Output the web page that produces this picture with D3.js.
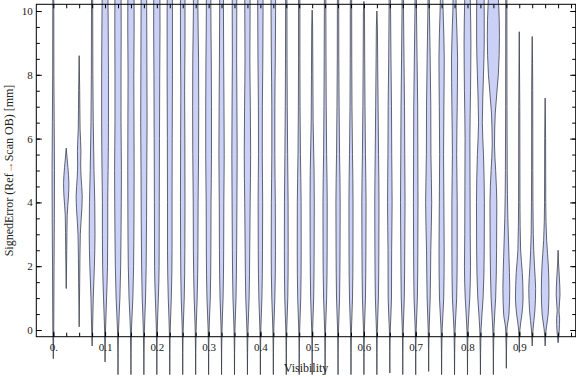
<!DOCTYPE html>
<html>
<head>
<meta charset="utf-8">
<title>Signed error violins</title>
<script src="https://d3js.org/d3.v7.min.js"></script>
<style>
  body { margin: 0; background: #fff; }
  text { font-family: "Liberation Serif", "DejaVu Serif", serif; fill: #222; }
</style>
</head>
<body>
<svg id="chart" width="576" height="377"></svg>
<script>
// visibility bins (x) of each violin
const visibility = [0, 0.025, 0.05, 0.075, 0.1, 0.125, 0.15, 0.175, 0.2, 0.225,
                    0.25, 0.275, 0.3, 0.325, 0.35, 0.375, 0.4, 0.425, 0.45, 0.475,
                    0.5, 0.525, 0.55, 0.575, 0.6, 0.625, 0.65, 0.675, 0.7, 0.725,
                    0.75, 0.775, 0.8, 0.825, 0.85, 0.875, 0.9, 0.925, 0.95, 0.975];

// density profile of each violin: [signed error mm, relative density]
const profiles = [
  [[-0.9,0],[0,0.6],[2,1],[3.5,1.4],[5,1.6],[6.5,1.2],[8,0.8],[11,0.6]],
  [[1.3,0],[2.5,0.7],[3.6,1.3],[4.2,3],[4.6,3.5],[5.1,2.2],[5.7,0]],
  [[0.1,0],[1.5,0.7],[3,1.5],[3.8,3.5],[4.2,4],[4.8,2.5],[5.2,2],[5.6,2.3],[6.3,1.2],[7.5,0.7],[8.6,0]],
  [[-0.5,0],[0,0.6],[1,1.5],[2,3],[3,3.8],[4,3.5],[5,2.5],[6.5,1.5],[8,1],[10,0.8],[11,0.8]],
  [[-1,0],[0,0.6],[1,2],[2,3.2],[3,3.5],[4,3.5],[5,4],[6.5,4.5],[8,4.5],[9,4.3],[10,4],[11,3.5]],
  [[-1.4,0],[0,0.7],[1,2.5],[2,3.5],[3,4],[4,4.3],[5,4.5],[6.5,4],[8,4],[9.5,4.2],[11,4]],
  [[-1.4,0],[0,0.7],[1,2.5],[2,3.5],[3.5,4],[5,4.2],[6.5,4],[8,3.8],[9.5,4.2],[11,4]],
  [[-1.4,0],[0,0.7],[1,2.2],[2,3],[3.5,3.5],[5,3.8],[6.5,4.2],[8,4],[9.5,3.8],[11,3.5]],
  [[-1.4,0],[0,0.6],[1,2],[2,3],[4,3.2],[6,3.5],[8,3.8],[9.5,4.2],[11,4]],
  [[-1.4,0],[0,0.6],[1,2],[2.5,3],[4,3],[6,3.2],[8,3.5],[10,3.5],[11,3.2]],
  [[-1.4,0],[0,0.6],[1,2],[2.5,2.8],[4,3],[6,2.8],[7.5,2.5],[9,3],[11,3]],
  [[-1.4,0],[0,0.6],[1,2],[2.5,3],[4,3.2],[5.5,3.8],[7,4],[8.5,3.8],[10,3],[11,3]],
  [[-1.4,0],[0,0.6],[1,2.2],[2.5,3],[4,3.2],[5.5,3.8],[7,3.8],[8.5,3.5],[10,3],[11,3]],
  [[-1.4,0],[0,0.6],[1,2],[2.5,2.8],[4,3],[5.5,3.5],[7,3.2],[8.5,2.8],[10,2.5],[11,2.5]],
  [[-1.4,0],[0,0.6],[1,2],[2.5,2.8],[4,3.2],[5.5,3.5],[7,3.2],[8.5,2.8],[10,3],[11,3]],
  [[-1.4,0],[0,0.7],[1,2.2],[2.5,3],[4,3.6],[5.5,4.2],[7,3.8],[8.5,3.2],[10,3.5],[11,3.5]],
  [[-1.4,0],[0,0.6],[1,2],[2.5,2.8],[4,3],[5.5,2.5],[7,2.6],[8.5,3.2],[10,3.5],[11,3.5]],
  [[-1.4,0],[0,0.6],[1,2],[2.5,2.8],[4,2.6],[5.5,2],[7,2],[8.5,2.6],[10,3],[11,3]],
  [[-1.4,0],[0,0.6],[1,2],[2.5,2.5],[4,2.4],[5.5,1.8],[7,1.3],[8.5,1],[10,0.9],[11,0.8]],
  [[-1.4,0],[0,0.6],[1,2],[2.5,2.6],[4,2.5],[5.5,1.6],[7,1.1],[8.5,0.9],[10,0.9],[11,0.8]],
  [[-1.4,0],[0,0.6],[1,2],[2.5,2.6],[4,2.8],[5,2.5],[6.5,1.3],[8,0.9],[9.5,0.6],[10.03,0]],
  [[-1.4,0],[0,0.6],[1,2],[2.5,2.7],[4,2.8],[5.5,2],[7,1.5],[8.5,1.2],[10,1],[11,0.9]],
  [[-1.4,0],[0,0.6],[1,2],[2.5,2.6],[4,2.8],[5.5,2],[7,1.4],[8.5,1],[10,0.9],[11,0.8]],
  [[-1.4,0],[0,0.6],[1,2],[2.5,2.6],[4,2.7],[5.5,2],[7,1.3],[8.5,1],[10,0.9],[11,0.8]],
  [[-1.4,0],[0,0.6],[1,2],[2.5,2.6],[4,2.8],[5.5,2],[7,1.4],[8.5,1],[10,0.7],[10.3,0]],
  [[-1.4,0],[0,0.6],[1,2],[2.5,2.6],[4,2.8],[5.5,2.2],[7,1.6],[8.5,1],[9.5,0.7],[10,0]],
  [[-1.35,0],[0,0.6],[1,2.2],[2.5,2.4],[4,3],[5.5,2.5],[7,2.2],[8.5,1.5],[10,1],[11,0.8]],
  [[-1.4,0],[0,0.6],[1,2],[2.5,2.6],[4,3],[5.5,2.6],[7,2.3],[8.5,1.6],[10,1],[11,0.8]],
  [[-1.4,0],[0,0.6],[1,2.2],[2.5,2.8],[4,3],[5.5,2.8],[7,2.6],[8.5,1.8],[10,1],[11,0.8]],
  [[-1.3,0],[0,0.6],[1,2],[2.5,2.8],[4,4],[5.5,3],[7,2.8],[8.5,2],[10,1],[11,0.8]],
  [[-1.4,0],[0,0.7],[1,2.8],[2.5,3.4],[4,3],[5.5,2.6],[7,3],[8.5,3.5],[10,2],[11,1]],
  [[-1.4,0],[0,0.7],[1,2.8],[2.5,3.5],[4,3.5],[5.5,2.8],[7,3.5],[8.5,4],[10,2.2],[11,1.5]],
  [[-1.4,0],[0,0.7],[1,3],[2,4],[3,3.6],[4.5,3.4],[6,3.2],[7.5,4],[9,4.5],[10.5,3.5],[11,3]],
  [[-1.4,0],[0,0.8],[1,3.5],[2.5,5],[4,5.2],[5.5,4],[6.5,2.5],[8,4],[9,5],[10,5],[11,4.5]],
  [[-1.4,0],[0,0.7],[1,3],[2.5,4.2],[4,4.5],[5,3],[5.8,1.5],[6.8,2.5],[8,6.5],[9.2,8],[10.2,7],[11,5]],
  [[-1.2,0],[0,0.8],[0.5,3.5],[1.3,4.5],[2.3,3.5],[3.5,2],[5,1.2],[7,0.9],[9,0.8],[11,0.7]],
  [[-0.7,0],[0,0.8],[0.5,3.5],[1,5],[1.8,4],[2.5,1.8],[4,0.9],[7,0.7],[9.35,0]],
  [[-0.5,0],[0,1],[0.6,3.5],[1.3,4.5],[2,3],[3,1.4],[5,0.8],[7.5,0.7],[9.2,0]],
  [[-0.5,0],[0,1.2],[0.5,4],[1.2,5],[2,4.2],[2.8,2],[4,0.8],[6,0.6],[7.27,0]],
  [[-0.4,0],[0,1.5],[0.35,2],[0.6,1.2],[1.1,2.5],[1.6,1.8],[2.1,0.6],[2.5,0]]
];

const yMajorTicks = [0, 2, 4, 6, 8, 10];
const xMajorTicks = [0, 0.1, 0.2, 0.3, 0.4, 0.5, 0.6, 0.7, 0.8, 0.9];
const xTickLabels = ["0.", "0.1", "0.2", "0.3", "0.4", "0.5", "0.6", "0.7", "0.8", "0.9"];

const svg = d3.select("#chart");
const pLeft = 36.3, pRight = 575.7, pTop = 4.3, pBottom = 336.7;

const x = d3.scaleLinear().domain([-0.0328, 1.009]).range([pLeft, pRight]);
const y = d3.scaleLinear().domain([-0.21, 10.21]).range([pBottom, pTop]);
const w = d3.scaleLinear().domain([0, 10]).range([0, 7.6]);

// violins
const area = d3.area()
    .curve(d3.curveMonotoneY)
    .y(d => y(d[0]));

const g = svg.append("g");
profiles.forEach((p, i) => {
    const cx = x(visibility[i]);
    g.append("path")
        .datum(p)
        .attr("fill", "#cbd1f6")
        .attr("stroke", "#353945")
        .attr("stroke-opacity", 0.85)
        .attr("stroke-width", 0.9)
        .attr("d", area.x0(d => cx - w(d[1])).x1(d => cx + w(d[1])));
});

// frame
svg.append("rect")
    .attr("x", pLeft).attr("y", pTop)
    .attr("width", pRight - pLeft).attr("height", pBottom - pTop)
    .attr("fill", "none").attr("stroke", "#000").attr("stroke-width", 1);

const xMinor = d3.range(0, 1.0001, 0.025);
const yMinor = d3.range(0, 10.01, 0.5);

function ticks(sel, axis) { sel.call(axis); sel.select(".domain").remove(); }

// x axis (bottom) with labels
svg.append("g").attr("transform", `translate(0,${pBottom})`)
    .call(ticks, d3.axisBottom(x).tickValues(xMinor).tickSize(-4).tickFormat(""));
svg.append("g").attr("transform", `translate(0,${pBottom})`)
    .call(ticks, d3.axisBottom(x).tickValues(xMajorTicks).tickSize(-5).tickPadding(7)
        .tickFormat((d, i) => xTickLabels[i]));
// top ticks
svg.append("g").attr("transform", `translate(0,${pTop})`)
    .call(ticks, d3.axisTop(x).tickValues(xMinor).tickSize(-4).tickFormat(""));

// y axis (left) with labels
svg.append("g").attr("transform", `translate(${pLeft},0)`)
    .call(ticks, d3.axisLeft(y).tickValues(yMinor).tickSize(-3.5).tickFormat(""));
svg.append("g").attr("transform", `translate(${pLeft},0)`)
    .call(ticks, d3.axisLeft(y).tickValues(yMajorTicks).tickSize(-5.5).tickPadding(3.5));
// right ticks
svg.append("g").attr("transform", `translate(${pRight},0)`)
    .call(ticks, d3.axisRight(y).tickValues(yMinor).tickSize(-3.5).tickFormat(""));
svg.append("g").attr("transform", `translate(${pRight},0)`)
    .call(ticks, d3.axisRight(y).tickValues(yMajorTicks).tickSize(-5.5).tickFormat(""));

svg.selectAll(".tick line").attr("stroke", "#000");
svg.selectAll(".tick text")
    .attr("font-family", "Liberation Serif")
    .attr("font-size", 11)
    .attr("fill", "#222");

// axis titles
svg.append("text")
    .attr("x", (pLeft + pRight) / 2).attr("y", 372)
    .attr("text-anchor", "middle")
    .attr("font-size", 12)
    .text("Visibility");

const yt = svg.append("text")
    .attr("transform", `translate(13,${(pTop + pBottom) / 2}) rotate(-90)`)
    .attr("text-anchor", "middle")
    .attr("font-size", 12);
yt.append("tspan").text("SignedError (Ref");
yt.append("tspan").attr("fill", "#c0661a").text("→");
yt.append("tspan").text("Scan OB) [mm]");
</script>
</body>
</html>
